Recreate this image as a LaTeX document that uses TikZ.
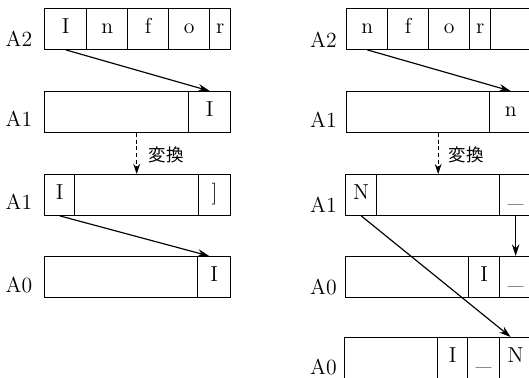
\documentclass[tikz,border=0pt]{standalone}
\usepackage{fontspec}
\newfontfamily\jpfont{Noto Sans CJK JP}
\usetikzlibrary{arrows.meta}

\begin{document}
\begin{tikzpicture}[x=0.6pt, y=-0.6pt,
    font=\fontsize{13}{15}\selectfont,
    cell/.style={draw, rectangle, line width=0.8pt, inner sep=0pt, anchor=north west,
                 minimum height=24.3pt, text height=1.6ex, text depth=.3ex},
    reg/.style={inner sep=0pt},
    move/.style={line width=0.7pt, -{Stealth[length=7pt,width=4.5pt]}},
    conv/.style={line width=0.6pt, dash pattern=on 2.5pt off 1.5pt, -{Stealth[length=6pt,width=4pt]}}]
    \useasboundingbox (0,0) rectangle (529,377);
    \clip (0,0) rectangle (529,377);

    % Left column: register labels
    \node[reg] (la2) at (19,38.5) {A2};
    \node[reg] (la1) at (19,118.5) {A1};
    \node[reg] (lb1) at (19,201.5) {A1};
    \node[reg] (la0) at (19,285) {A0};

    % Left column: A2 shift register
    \node[cell, minimum width=25.2pt] (l2i) at (44,8) {I};
    \node[cell, minimum width=24.6pt] (l2n) at (86,8) {n};
    \node[cell, minimum width=24.6pt] (l2f) at (127,8) {f};
    \node[cell, minimum width=24.6pt] (l2o) at (168,8) {o};
    \node[cell, minimum width=12.6pt] (l2r) at (209,8) {r};

    % Left column: A1 before and after the conversion
    \node[cell, minimum width=86.4pt] (l1a) at (44,91) {};
    \node[cell, minimum width=25.2pt] (l1i) at (188,91) {I};
    \node[cell, minimum width=18pt] (l1n) at (44,174) {I};
    \node[cell, minimum width=74.4pt] (l1m) at (74,174) {};
    \node[cell, minimum width=19.2pt] (l1e) at (198,174) {]};

    % Left column: A0
    \node[cell, minimum width=91.8pt] (l0a) at (44,256) {};
    \node[cell, minimum width=19.8pt] (l0i) at (197,256) {I};

    % Left column: moves
    \draw[move] (l2i.south) -- (l1i.north);
    \draw[conv] (l1m.north |- l1a.south) -- (l1m.north);
    \node[reg, font=\jpfont\fontsize{10.5}{12}\selectfont] (lcv) at (166,155) {変換};
    \draw[move] (l1n.south) -- ([xshift=-3pt]l0i.north);

    % Right column: register labels
    \node[reg] (ra2) at (323.5,40) {A2};
    \node[reg] (ra1) at (323.5,120) {A1};
    \node[reg] (rb1) at (323.5,205) {A1};
    \node[reg] (ra0) at (323.5,287) {A0};
    \node[reg] (rb0) at (323.5,366.5) {A0};

    % Right column: A2 shift register
    \node[cell, minimum width=24.6pt] (r2n) at (346,8) {n};
    \node[cell, minimum width=24.6pt] (r2f) at (387,8) {f};
    \node[cell, minimum width=24.6pt] (r2o) at (428,8) {o};
    \node[cell, minimum width=12.6pt] (r2r) at (469,8) {r};
    \node[cell, minimum width=27pt] (r2e) at (490,8) {};

    % Right column: A1 before and after the conversion
    \node[cell, minimum width=85.8pt] (r1a) at (346,91) {};
    \node[cell, minimum width=25.2pt] (r1n) at (489,91) {n};
    \node[cell, minimum width=18.6pt] (r1N) at (345,174) {N};
    \node[cell, minimum width=73.8pt] (r1m) at (376,174) {};
    \node[cell, minimum width=19.2pt] (r1u) at (499,174) {\raisebox{-2pt}{\_}};

    % Right column: A0 before and after
    \node[cell, minimum width=73.8pt] (r0a) at (345,256) {};
    \node[cell, minimum width=18.6pt] (r0i) at (468,256) {I};
    \node[cell, minimum width=19.2pt] (r0u) at (499,256) {\raisebox{-2pt}{\_}};
    \node[cell, minimum width=55.8pt] (s0a) at (344,337) {};
    \node[cell, minimum width=18pt] (s0i) at (437,337) {I};
    \node[cell, minimum width=19.2pt] (s0u) at (467,337) {\raisebox{-2pt}{\_}};
    \node[cell, minimum width=19.2pt] (s0N) at (499,337) {N};

    % Right column: moves
    \draw[move] (r2n.south) -- (r1n.north);
    \draw[conv] (r1m.north |- r1a.south) -- (r1m.north);
    \node[reg, font=\jpfont\fontsize{10.5}{12}\selectfont] (rcv) at (466,155) {変換};
    \draw[move] (r1u.south) -- (r0u.north);
    \draw[move] (r1N.south) -- ([xshift=-3pt]s0N.north);
\end{tikzpicture}
\end{document}
